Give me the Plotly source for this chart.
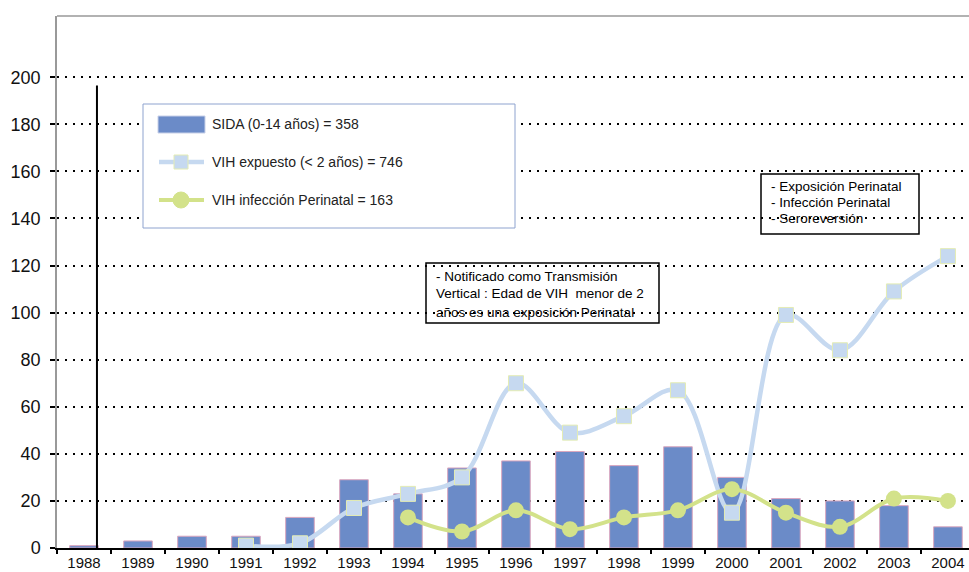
import plotly.graph_objects as go

# Data
years = ["1988", "1989", "1990", "1991", "1992", "1993", "1994", "1995", "1996",
         "1997", "1998", "1999", "2000", "2001", "2002", "2003", "2004"]
sida = [1, 3, 5, 5, 13, 29, 23, 34, 37, 41, 35, 43, 30, 21, 20, 18, 9]
vih_expuesto = [None, None, None, 1, 2, 17, 23, 30, 70, 49, 56, 67, 15, 99, 84, 109, 124]
vih_perinatal = [None, None, None, None, None, None, 13, 7, 16, 8, 13, 16, 25, 15, 9, 21, 20]
ytick_vals = [0, 20, 40, 60, 80, 100, 120, 140, 160, 180, 200]

legend_labels = ["SIDA (0-14 años) = 358",
                 "VIH expuesto (< 2 años) = 746",
                 "VIH infección Perinatal = 163"]
note1_lines = ["- Notificado como Transmisión",
               "Vertical : Edad de VIH  menor de 2",
               "años es una exposición Perinatal"]
note2_lines = ["- Exposición Perinatal",
               "- Infección Perinatal",
               "- Seroreversión"]

BAR_COLOR = "#6b8bc8"
BLUE_LINE = "#c6d9f0"
GREEN_LINE = "#d3e28a"
FONT = "Arial, Liberation Sans, sans-serif"

W, H = 969, 572
L, R, T, B = 57, 0, 16, 24
PW, PH = W - L - R, H - T - B


def px(x):
    # pixel x -> paper coordinate
    return (x - L) / PW


def py(y):
    # pixel y -> paper coordinate
    return (H - B - y) / PH


bars = go.Bar(
    x=years, y=sida, width=0.53,
    marker=dict(color=BAR_COLOR, line=dict(color="#dba7bf", width=1)),
    showlegend=False
)

expuesto = go.Scatter(
    x=years, y=vih_expuesto, mode="lines+markers",
    line=dict(color=BLUE_LINE, width=4.5, shape="spline", smoothing=1),
    marker=dict(symbol="square", size=15, color=BLUE_LINE,
                line=dict(color="#e4ecb4", width=1)),
    showlegend=False
)

perinatal = go.Scatter(
    x=years, y=vih_perinatal, mode="lines+markers",
    line=dict(color=GREEN_LINE, width=4, shape="spline", smoothing=1),
    marker=dict(symbol="circle", size=16, color=GREEN_LINE),
    showlegend=False
)

fig = go.Figure(data=[bars, expuesto, perinatal])

shapes = []
# top frame of the plot area
shapes.append(dict(type="line", xref="paper", yref="paper", x0=0, x1=1, y0=1, y1=1,
                   line=dict(color="#999999", width=1.5)))
# vertical black line next to 1988
shapes.append(dict(type="line", xref="x", yref="y", x0=0.24, x1=0.24, y0=0, y1=196.5,
                   line=dict(color="black", width=2)))

# hand-built legend box
shapes.append(dict(type="rect", xref="paper", yref="paper",
                   x0=px(143), x1=px(515), y0=py(228), y1=py(104),
                   fillcolor="white", line=dict(color="#8ea3cf", width=1), layer="above"))
shapes.append(dict(type="rect", xref="paper", yref="paper",
                   x0=px(158), x1=px(205), y0=py(133), y1=py(116),
                   fillcolor=BAR_COLOR, line=dict(color="#c8d0e8", width=1), layer="above"))
shapes.append(dict(type="line", xref="paper", yref="paper",
                   x0=px(159), x1=px(204), y0=py(162), y1=py(162),
                   line=dict(color=BLUE_LINE, width=4.5), layer="above"))
shapes.append(dict(type="rect", xref="paper", yref="paper", xsizemode="pixel", ysizemode="pixel",
                   xanchor=px(181), yanchor=py(162), x0=-7, x1=7, y0=-7, y1=7,
                   fillcolor=BLUE_LINE, line=dict(color="#e4ecb4", width=1), layer="above"))
shapes.append(dict(type="line", xref="paper", yref="paper",
                   x0=px(159), x1=px(204), y0=py(200), y1=py(200),
                   line=dict(color=GREEN_LINE, width=4), layer="above"))
shapes.append(dict(type="circle", xref="paper", yref="paper", xsizemode="pixel", ysizemode="pixel",
                   xanchor=px(181), yanchor=py(200), x0=-8, x1=8, y0=-8, y1=8,
                   fillcolor=GREEN_LINE, line=dict(color=GREEN_LINE, width=1), layer="above"))

# note boxes (transparent)
shapes.append(dict(type="rect", xref="paper", yref="paper",
                   x0=px(426), x1=px(659), y0=py(323), y1=py(263),
                   line=dict(color="black", width=1.5), layer="above"))
shapes.append(dict(type="rect", xref="paper", yref="paper",
                   x0=px(761), x1=px(919), y0=py(234), y1=py(174),
                   line=dict(color="black", width=1.5), layer="above"))

annotations = []
for label, ypix in zip(legend_labels, [124, 162, 200]):
    annotations.append(dict(text=label, xref="paper", yref="paper", x=px(210), y=py(ypix),
                            xanchor="left", yanchor="middle", showarrow=False,
                            font=dict(family=FONT, size=14, color="#222222")))
for line, ypix in zip(note1_lines, [276, 294, 312]):
    annotations.append(dict(text=line, xref="paper", yref="paper", x=px(434), y=py(ypix),
                            xanchor="left", yanchor="middle", showarrow=False,
                            font=dict(family=FONT, size=13.5, color="black")))
for line, ypix in zip(note2_lines, [187, 203, 219]):
    annotations.append(dict(text=line, xref="paper", yref="paper", x=px(769), y=py(ypix),
                            xanchor="left", yanchor="middle", showarrow=False,
                            font=dict(family=FONT, size=13.5, color="black")))

fig.update_layout(
    width=W, height=H,
    margin=dict(l=L, r=R, t=T, b=B),
    plot_bgcolor="white", paper_bgcolor="white",
    font=dict(family=FONT, color="black"),
    shapes=shapes,
    annotations=annotations,
    xaxis=dict(
        type="category", range=[-0.5, 16.39],
        showline=True, linecolor="black", linewidth=2,
        ticks="outside", tickson="boundaries", ticklen=4, tickwidth=2, tickcolor="black",
        tickfont=dict(family=FONT, size=15, color="#111111"),
        showgrid=False
    ),
    yaxis=dict(
        range=[0, 226], tickvals=ytick_vals,
        showline=True, linecolor="#999999", linewidth=1.5,
        ticks="outside", ticklen=5, tickwidth=2, tickcolor="black",
        ticklabelstandoff=6,
        tickfont=dict(family=FONT, size=18, color="#111111"),
        showgrid=True, gridcolor="black", gridwidth=1.5, griddash="2px,6px",
        zeroline=False
    )
)

# drop the default page margin so the figure fills the window exactly
fig.write_html("out.html", config={"displayModeBar": False},
               post_script="document.body.style.margin='0';document.body.style.overflow='hidden';")
